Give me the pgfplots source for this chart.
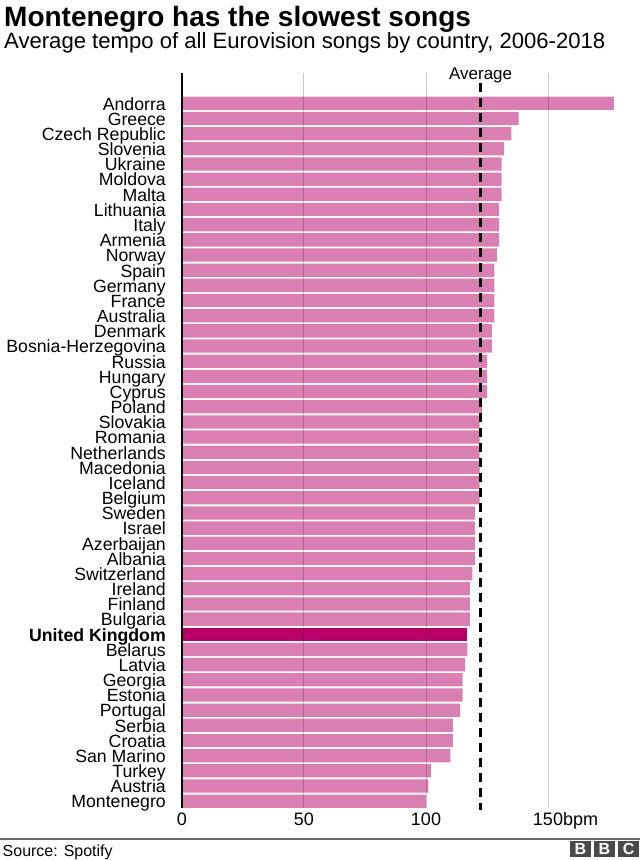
\documentclass[border=0pt]{standalone}
\usepackage{pgfplots}
\pgfplotsset{compat=1.18}
\usepackage{fontspec}
\setmainfont{Liberation Sans}
\definecolor{barpink}{HTML}{D97FB2}
\definecolor{ukpink}{HTML}{B80068}
\definecolor{bbcgray}{HTML}{4A4A4A}
\begin{document}
\begin{tikzpicture}[x=1pt,y=1pt]
\path[use as bounding box] (0,0) rectangle (640,860);
\node[anchor=base west, inner sep=0pt, font=\fontsize{28}{32}\selectfont\bfseries] at (4,833) {Montenegro has the slowest songs};
\node[anchor=base west, inner sep=0pt, font=\fontsize{22.1}{26}\selectfont] at (4,811.5) {Average tempo of all Eurovision songs by country, 2006-2018};
\begin{axis}[
  at={(182pt,52pt)}, anchor=south west, scale only axis,
  width=439.2pt, height=735pt,
  xmin=0, xmax=180, ymin=-0.45, ymax=48,
  axis lines*=left,
  x axis line style={draw=none},
  y axis line style={line width=2pt, black},
  xtick={0,50,100,150}, xticklabels={0,50,100,150\rlap{bpm}},
  ytick={0,...,46},
  yticklabels={Montenegro,Austria,Turkey,San Marino,Croatia,Serbia,Portugal,Estonia,Georgia,Latvia,Belarus,{\bfseries United Kingdom},Bulgaria,Finland,Ireland,Switzerland,Albania,Azerbaijan,Israel,Sweden,Belgium,Iceland,Macedonia,Netherlands,Romania,Slovakia,Poland,Cyprus,Hungary,Russia,Bosnia-Herzegovina,Denmark,Australia,France,Germany,Spain,Norway,Armenia,Italy,Lithuania,Malta,Moldova,Ukraine,Slovenia,Czech Republic,Greece,Andorra},
  major tick length=0pt, tick style={draw=none},
  xmajorgrids, major grid style={black, opacity=0.2, line width=1pt},
  axis on top,
  xticklabel style={font=\fontsize{18}{18}\selectfont, anchor=base, inner sep=0pt, yshift=-17.5pt},
  yticklabel style={font=\fontsize{17.7}{17.7}\selectfont, anchor=base east, inner sep=0pt, xshift=-16pt, yshift=-6.8pt},
  /pgf/number format/assume math mode=true,
  clip=false,
]
\addplot[xbar, fill=barpink, draw=none, bar width=13.3pt, bar shift=0pt] coordinates {
(177,46) (138,45) (135,44) (132,43) (131,42) (131,41) (131,40) (130,39) (130,38) (130,37)
(129,36) (128,35) (128,34) (128,33) (128,32) (127,31) (127,30) (125,29) (125,28) (125,27)
(123,26) (122,25) (122,24) (122,23) (122,22) (122,21) (122,20) (120,19) (120,18) (120,17)
(120,16) (119,15) (118,14) (118,13) (118,12) (117,10) (116,9) (115,8) (115,7)
(114,6) (111,5) (111,4) (110,3) (102,2) (101,1) (100,0)
};
\addplot[xbar, fill=ukpink, draw=none, bar width=13.3pt, bar shift=0pt] coordinates {(117,11)};
\addplot[sharp plot, black, line width=2.5pt, dash pattern=on 9pt off 6pt] coordinates {(122.4,47.35) (122.4,-0.6)};
\node[anchor=base, inner sep=0pt, font=\fontsize{17}{17}\selectfont, yshift=-6.5pt] at (axis cs:122.4,48) {Average};
\end{axis}
\draw[color=black!60, line width=1.2pt] (0,21) -- (640,21);
\node[anchor=base west, inner sep=0pt, font=\fontsize{16}{16}\selectfont] at (2.5,3.5) {Source: Spotify};
\fill[bbcgray] (570,3) rectangle (590.7,19);
\fill[bbcgray] (594,3) rectangle (614.7,19);
\fill[bbcgray] (618,3) rectangle (639.3,19);
\node[text=white, font=\fontsize{16}{16}\selectfont\bfseries, inner sep=0pt] at (580.35,11) {B};
\node[text=white, font=\fontsize{16}{16}\selectfont\bfseries, inner sep=0pt] at (604.35,11) {B};
\node[text=white, font=\fontsize{16}{16}\selectfont\bfseries, inner sep=0pt] at (628.65,11) {C};
\end{tikzpicture}
\end{document}
